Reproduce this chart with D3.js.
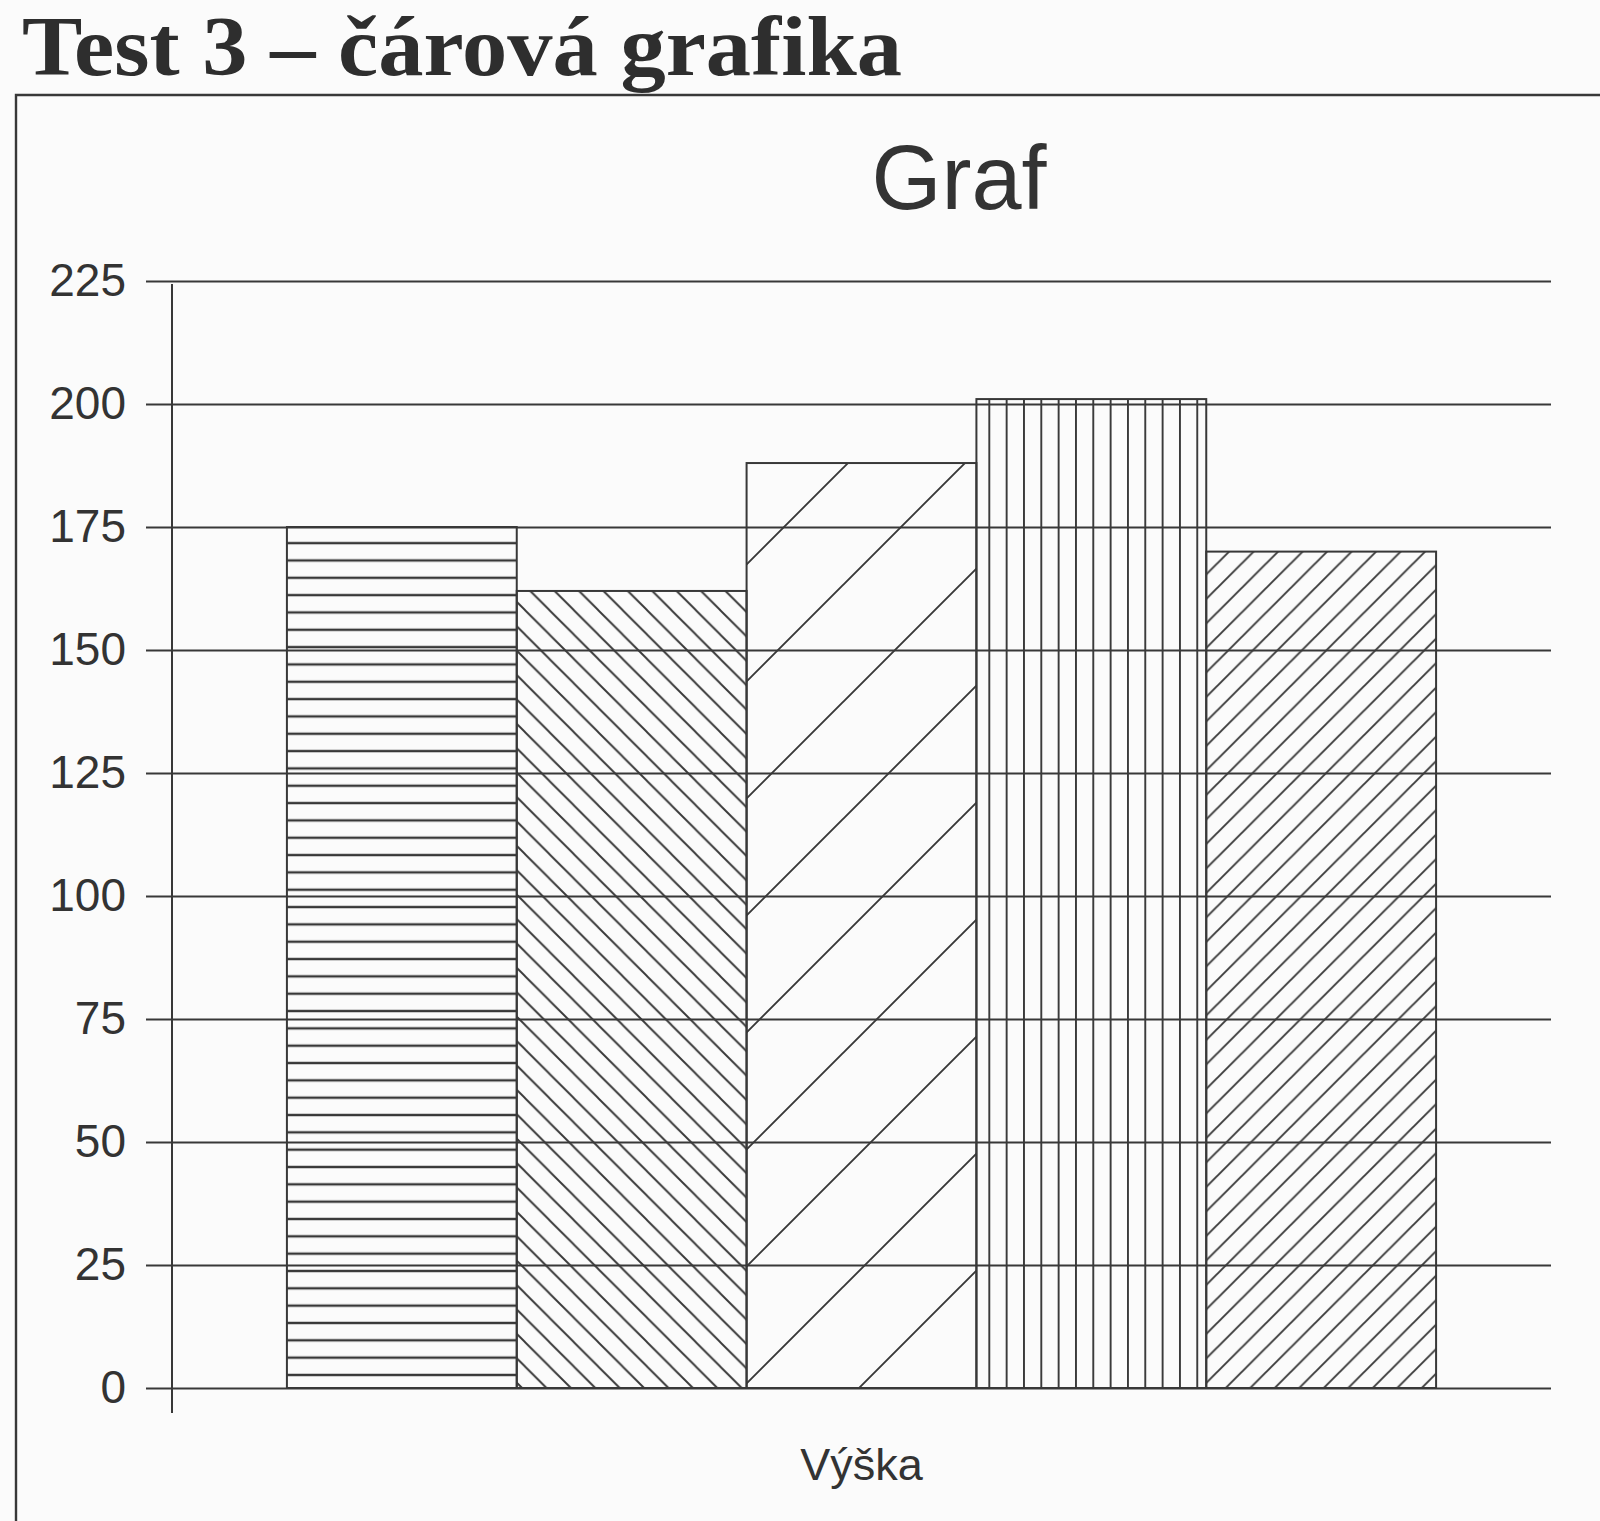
<!DOCTYPE html>
<html>
<head>
<meta charset="utf-8">
<script src="https://cdn.jsdelivr.net/npm/d3@7"></script>
<style>
  html, body { margin: 0; padding: 0; background: #fbfbfb; }
  svg { display: block; }
</style>
</head>
<body>
<div class="canvas"></div>
<script>
// data
const categories = ['Výška'];
const series = ['1', '2', '3', '4', '5'];
const values = [175, 162, 188, 201, 170];
const yTicks = [0, 25, 50, 75, 100, 125, 150, 175, 200, 225];

const ink = '#383838';
const W = 1600, H = 1521;

const svg = d3.select('.canvas')
  .append('svg')
    .attr('width', W)
    .attr('height', H);

//hatch patterns, one per bar (in page coordinates)
const defs = svg.append('defs');
function hatch(id, kind, s, off) {
  const p = defs.append('pattern')
    .attr('id', id)
    .attr('patternUnits', 'userSpaceOnUse')
    .attr('width', s)
    .attr('height', s);
  let d;
  if (kind === 'h') { p.attr('y', off); d = `M0,0 H${s} M0,${s} H${s}`; }
  else if (kind === 'v') { p.attr('x', off); d = `M0,0 V${s} M${s},0 V${s}`; }
  else if (kind === 'up') {
    // "/" lines through the tile and its corners
    p.attr('x', off);
    d = `M0,${s} L${s},0 M${-s},${s} L${s},${-s} M0,${2 * s} L${2 * s},0`;
  } else {
    // "\" lines
    p.attr('x', off);
    d = `M0,0 L${s},${s} M${-s},0 L${s},${2 * s} M0,${-s} L${2 * s},${s}`;
  }
  p.append('path')
    .attr('d', d)
    .attr('stroke', ink)
    .attr('stroke-width', kind === 'h' ? 2.4 : 1.9)
    .attr('fill', 'none');
}
hatch('p0', 'h', 17.33, 5.9);
hatch('p1', 'down', 24.4, 12.5);
hatch('p2', 'up', 117, 24);
hatch('p3', 'v', 17.33, 1.5);
hatch('p4', 'up', 24.5, 16.7);
const fills = ['url(#p0)', 'url(#p1)', 'url(#p2)', 'url(#p3)', 'url(#p4)'];

//page header and frame
svg.append('text')
  .attr('x', 22)
  .attr('y', 75)
  .attr('font-family', 'Liberation Serif')
  .attr('font-weight', 'bold')
  .attr('font-size', 84)
  .attr('textLength', 880)
  .attr('lengthAdjust', 'spacingAndGlyphs')
  .attr('fill', '#2e2e2e')
  .text('Test 3 – čárová grafika');

svg.append('path')
  .attr('d', `M16,${H} V95 H${W}`)
  .attr('fill', 'none')
  .attr('stroke', ink)
  .attr('stroke-width', 2.4);

svg.append('text')
  .attr('x', 959)
  .attr('y', 209)
  .attr('text-anchor', 'middle')
  .attr('font-family', 'Liberation Sans')
  .attr('font-size', 90)
  .attr('fill', '#333')
  .text('Graf');

//dimensions
const plotLeft = 172, plotRight = 1551, plotTop = 281, plotBottom = 1388;

const y = d3.scaleLinear()
  .domain([0, 225])
  .range([plotBottom, plotTop]);

const x0 = d3.scaleBand()
  .domain(categories)
  .range([plotLeft, plotRight])
  .paddingOuter(0.1)
  .paddingInner(0);

const x1 = d3.scaleBand()
  .domain(series)
  .range([0, x0.bandwidth()])
  .padding(0);

//gridlines via the y axis (they reach past the axis to the left)
const gridStart = 146;
const yAxis = d3.axisLeft(y)
  .tickValues(yTicks)
  .tickSize(-(plotRight - gridStart))
  .tickPadding(20)
  .tickFormat(d3.format('d'));

const yAxisGroup = svg.append('g')
  .attr('transform', `translate(${gridStart},0)`)
  .call(yAxis);
yAxisGroup.select('.domain').remove();
yAxisGroup.selectAll('line')
  .attr('stroke', ink)
  .attr('stroke-width', 2);
yAxisGroup.selectAll('text')
  .attr('font-family', 'Liberation Sans')
  .attr('font-size', 46)
  .attr('fill', '#333');

//bars (no group transform so the hatching keeps page phase)
const barLeft = x0(categories[0]);
svg.append('g').selectAll('rect')
  .data(values)
  .enter()
  .append('rect')
    .attr('x', (d, i) => barLeft + x1(series[i]))
    .attr('y', d => y(d))
    .attr('width', x1.bandwidth())
    .attr('height', d => y(0) - y(d))
    .attr('fill', (d, i) => fills[i])
    .attr('stroke', ink)
    .attr('stroke-width', 2);

//vertical axis line, sticking out below zero
svg.append('line')
  .attr('x1', plotLeft).attr('x2', plotLeft)
  .attr('y1', y(225) + 3).attr('y2', y(0) + 25)
  .attr('stroke', ink)
  .attr('stroke-width', 2);

//category label
const xAxis = d3.axisBottom(x0)
  .tickSize(0)
  .tickPadding(60);
const xAxisGroup = svg.append('g')
  .attr('transform', `translate(0,${plotBottom})`)
  .call(xAxis);
xAxisGroup.select('.domain').remove();
xAxisGroup.selectAll('text')
  .attr('font-family', 'Liberation Sans')
  .attr('font-size', 45)
  .attr('fill', '#333');
</script>
</body>
</html>
